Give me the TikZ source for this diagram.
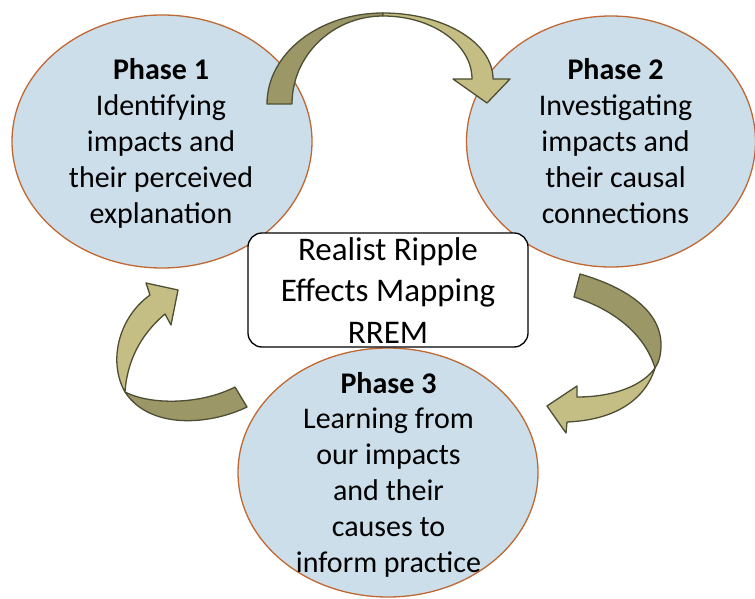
\documentclass[tikz,border=0pt]{standalone}
\usepackage{fontspec}
\setmainfont{Carlito}
\usetikzlibrary{shapes.geometric}
\definecolor{ellfill}{RGB}{204,222,234}
\definecolor{ellline}{RGB}{192,104,50}
\definecolor{arrdark}{RGB}{155,151,103}
\definecolor{arrlight}{RGB}{196,190,132}
\definecolor{arrline}{RGB}{78,78,52}
\begin{document}
\begin{tikzpicture}[x=1pt,y=-1pt,
  phase/.style={ellipse, draw=ellline, line width=1.3pt, fill=ellfill, inner sep=0pt},
  phasetext/.style={align=center, anchor=base, inner sep=0pt, font=\fontsize{30}{35.8}\selectfont},
  centerbox/.style={draw=black, line width=1.3pt, fill=white, rounded corners=14pt},
  arrowpart/.style={draw=arrline, line width=1.3pt, line join=round}]
\useasboundingbox (0,0) rectangle (755,599);
% ellipses
\node[phase, minimum width=300pt, minimum height=253pt] (e1) at (162,141.5) {};
\node[phase, minimum width=289pt, minimum height=251pt] (e2) at (611,141.5) {};
\node[phase, minimum width=300pt, minimum height=249pt] (e3) at (388,472.5) {};
% arrow 1 -> 2 (top)
\filldraw[arrowpart, fill=arrdark] (267,104) .. controls (267,53.7) and (318.9,13) .. (383,13)
  -- (383,16) .. controls (332.7,16) and (292,55.4) .. (292,104) -- cycle;
\filldraw[arrowpart, fill=arrlight] (383,13) .. controls (443.8,13) and (493,42.5) .. (493,79)
  -- (510,79) -- (487,103) -- (453,79) -- (472,79)
  .. controls (472,44.2) and (432.2,16) .. (383,16) -- cycle;
% arrow 2 -> 3 (right)
\filldraw[arrowpart, fill=arrdark] (580,274) .. controls (625,287) and (661,310) .. (661,345)
  .. controls (661,355) and (659,362) .. (655,368)
  .. controls (645,335) and (615,310) .. (574,297) -- cycle;
\filldraw[arrowpart, fill=arrlight] (655,368) .. controls (645,400) and (615,420) .. (567,422)
  -- (566,433) -- (547,406) -- (577,386) -- (577,397)
  .. controls (615,397) and (643,385) .. (655,368) -- cycle;
% arrow 3 -> 1 (left)
\filldraw[arrowpart, fill=arrdark] (247,407) .. controls (210,425) and (150,430) .. (125,392)
  .. controls (150,405) and (200,405) .. (235,387) -- cycle;
\filldraw[arrowpart, fill=arrlight] (125,392) .. controls (108,362) and (118,318) .. (150,295)
  -- (146,283) -- (178,290) -- (171,325) -- (165,314)
  .. controls (140,335) and (127,362) .. (125,392) -- cycle;
% centre box
\draw[centerbox] (248,233) rectangle (528,347);
% texts
\node[phasetext] (t1) at (161,223) {\textbf{Phase 1}\\Identifying\\impacts and\\their perceived\\explanation};
\node[phasetext] (t2) at (615.5,223) {\textbf{Phase 2}\\Investigating\\impacts and\\their causal\\connections};
\node[phasetext] (t3) at (388.5,572) {\textbf{Phase 3}\\Learning from\\our impacts\\and their\\causes to\\inform practice};
\node[align=center, anchor=base, inner sep=0pt, font=\fontsize{33}{41.5}\selectfont] (tc) at (388,343) {Realist Ripple\\Effects Mapping\\RREM};
\end{tikzpicture}
\end{document}
